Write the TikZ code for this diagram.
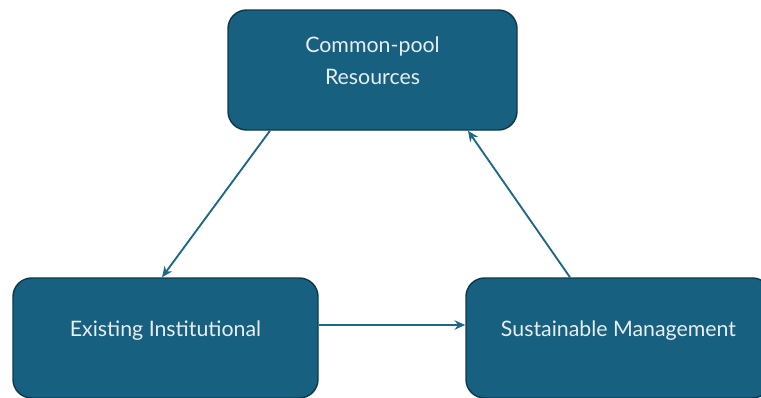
\documentclass[tikz,border=0pt]{standalone}
\usepackage{fontspec}
\setmainfont{Lato}
\usetikzlibrary{arrows.meta}

\definecolor{boxfill}{HTML}{17607F}
\definecolor{boxline}{HTML}{0E3A4D}
\definecolor{boxtext}{HTML}{E6EEF2}
\definecolor{linkcol}{HTML}{1D6887}

\tikzset{
  stage/.style={draw=boxline, line width=1.1pt, fill=boxfill, rounded corners=14pt,
    text=boxtext, font=\fontsize{16}{23.3}\selectfont, align=center,
    minimum width=228.75pt, minimum height=90pt, text depth=14pt},
  link/.style={draw=linkcol, line width=1.4pt, -{Stealth[length=8pt,width=7pt]}}
}

\begin{document}
\begin{tikzpicture}[x=0.75pt,y=-0.75pt]
    \useasboundingbox (0,0) rectangle (761,397);

    % the three stages
    \node[stage, minimum width=216.75pt] (pool) at (372.5,70) {Common-pool\\Resources};
    \node[stage] (inst) at (165.5,338) {Existing Institutional};
    \node[stage] (mgmt) at (618.5,338) {Sustainable Management};

    % the cycle
    \draw[link] ([xshift=-76.9pt]pool.south) -- ([xshift=-2.6pt]inst.north);
    \draw[link] ([yshift=9.75pt]inst.east) -- ([yshift=9.75pt]mgmt.west);
    \draw[link] ([xshift=-36.4pt]mgmt.north) -- ([xshift=71.6pt]pool.south);
\end{tikzpicture}
\end{document}
